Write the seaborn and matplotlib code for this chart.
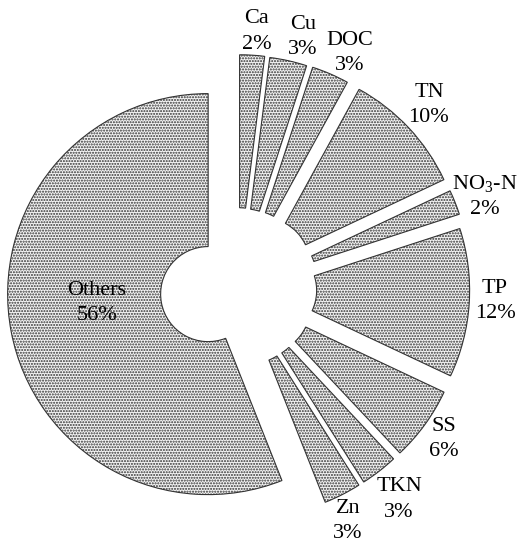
import matplotlib
matplotlib.use('Agg')
import matplotlib.pyplot as plt
import seaborn as sns
import numpy as np

# Data
names = ['Ca', 'Cu', 'DOC', 'TN', 'NO$_3$-N', 'TP', 'SS', 'TKN', 'Zn', 'Others']
shares = [2, 3, 3, 10, 2, 12, 6, 3, 3, 56]

# how far each slice is pulled out (fraction of radius)
explode = [0.166, 0.164, 0.166, 0.171, 0.167, 0.158, 0.155, 0.153, 0.153, 0.149]
# label placement: distance from the slice centre and angle tweak (deg)
label_dist = [1.119, 1.134, 1.137, 1.152, 1.151, 1.128, 1.12, 1.173, 1.131, 0.557]
label_turn = [-0.8, -2.3, -2.4, 0.7, -1.3, 0.9, -0.1, -0.4, -1.8, 0.0]

sns.set_theme(style='white')
plt.rcParams['font.family'] = ['Liberation Serif', 'DejaVu Serif']
plt.rcParams['mathtext.fontset'] = 'custom'
plt.rcParams['mathtext.rm'] = 'Liberation Serif'
plt.rcParams['mathtext.default'] = 'rm'

fig = plt.figure(figsize=(5.24, 5.5), dpi=100)
ax = fig.add_axes([0, 0, 1, 1])

labels = [f'{n}\n{s}%' for n, s in zip(names, shares)]

wedges, texts = ax.pie(
    shares, labels=labels, explode=explode, startangle=90, counterclock=False,
    labeldistance=1.12,
    wedgeprops=dict(width=0.763, facecolor='#f4f4f4', edgecolor='#333333',
                    linewidth=0.8, hatch='......'),
    textprops=dict(fontsize=16, color='black', linespacing=1.45))

for w, t, d, turn in zip(wedges, texts, label_dist, label_turn):
    t.set_ha('center')
    t.set_va('center')
    t.set_multialignment('center')
    th = (w.theta1 + w.theta2) / 2 + turn
    if t.get_text().startswith('Others'):
        th = 184.6  # this one sits inside the big wedge
    th = np.deg2rad(th)
    cx, cy = w.center
    t.set_position((cx + d * np.cos(th), cy + d * np.sin(th)))

ax.set_xlim(-1.1845, 1.4289)
ax.set_ylim(-1.3042, 1.4389)
ax.set_aspect('auto')
ax.axis('off')

fig.savefig('out.png', dpi=100)
